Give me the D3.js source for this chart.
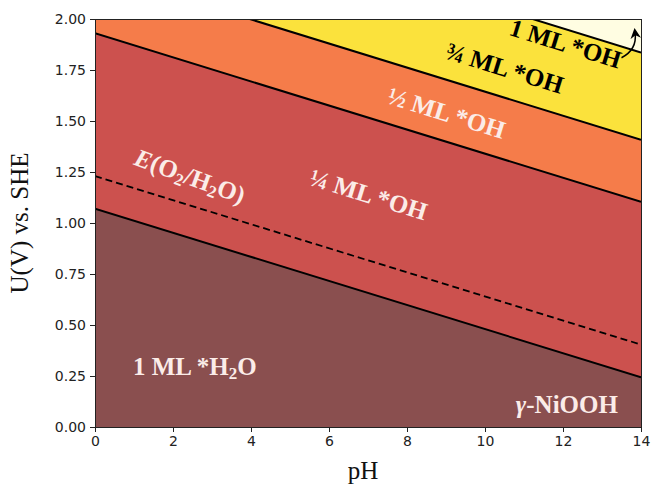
<!DOCTYPE html>
<html>
<head>
<meta charset="utf-8">
<title>pourbaix</title>
<script src="https://cdn.jsdelivr.net/npm/d3@7"></script>
<style>
  body { margin: 0; background: #fff; }
  svg { display: block; }
  .axis path, .axis line { stroke: #222; stroke-width: 1px; shape-rendering: crispEdges; }
  .axis text { font-family: "DejaVu Sans", sans-serif; font-size: 14px; fill: #222; }
  .label { font-family: "Liberation Serif", "DejaVu Serif", serif; font-weight: bold; font-size: 25px; }
  .title { font-family: "Liberation Serif", serif; font-size: 25px; fill: #111; }
</style>
</head>
<body>
<svg width="652" height="486"></svg>
<script>
// pH range of the plot
var phEnds = [0, 14];
// phase boundaries, potential at pH 0 and at pH 14 (V vs SHE)
var boundaryAt0 = [1.07, 1.93, 2.234, 2.662];
var boundaryAt14 = [0.244, 1.104, 1.408, 1.836];
// O2/H2O equilibrium line
var oerLine = [1.23, 0.404];
// region fills, bottom to top
var regionColors = ["#8a4f4f", "#cc514e", "#f57c4a", "#fbe23c", "#fffde2"];
var xTicks = [0, 2, 4, 6, 8, 10, 12, 14];
var yTicks = [0, 0.25, 0.5, 0.75, 1, 1.25, 1.5, 1.75, 2];

var svg = d3.select("svg"),
    margin = {top: 19, right: 11, bottom: 59, left: 95},
    width = +svg.attr("width") - margin.left - margin.right,
    height = +svg.attr("height") - margin.top - margin.bottom,
    g = svg.append("g").attr("transform", "translate(" + margin.left + "," + margin.top + ")");

var x = d3.scaleLinear().domain([0, 14]).range([0, width]);
var y = d3.scaleLinear().domain([0, 2]).range([height, 0]);

svg.append("defs").append("clipPath").attr("id", "plot")
  .append("rect").attr("width", width).attr("height", height);

svg.select("defs").append("marker")
  .attr("id", "head").attr("viewBox", "0 0 10 10").attr("refX", 5).attr("refY", 5)
  .attr("markerWidth", 7).attr("markerHeight", 7).attr("orient", "auto-start-reverse")
  .append("path").attr("d", "M0,0 L10,5 L0,10 L3,5 Z").attr("fill", "#000");

var plot = g.append("g").attr("clip-path", "url(#plot)");

// region bands: lower edge is the previous boundary (or 0), upper is the next (or above the top)
var lower = [[0, 0]].concat(boundaryAt0.map(function(d, i) { return [d, boundaryAt14[i]]; }));
var upper = boundaryAt0.map(function(d, i) { return [d, boundaryAt14[i]]; }).concat([[3, 3]]);

var area = d3.area()
  .x(function(d) { return x(d.ph); })
  .y0(function(d) { return y(d.lo); })
  .y1(function(d) { return y(d.hi); });

regionColors.forEach(function(c, i) {
  var pts = phEnds.map(function(p, j) { return {ph: p, lo: lower[i][j], hi: upper[i][j]}; });
  plot.append("path").datum(pts).attr("d", area).attr("fill", c);
});

var line = d3.line()
  .x(function(d) { return x(d.ph); })
  .y(function(d) { return y(d.u); });

boundaryAt0.forEach(function(d, i) {
  var pts = phEnds.map(function(p, j) { return {ph: p, u: [d, boundaryAt14[i]][j]}; });
  plot.append("path").datum(pts).attr("d", line)
    .attr("fill", "none").attr("stroke", "#000").attr("stroke-width", 2);
});

plot.append("path")
  .datum(phEnds.map(function(p, j) { return {ph: p, u: oerLine[j]}; }))
  .attr("d", line).attr("fill", "none").attr("stroke", "#000")
  .attr("stroke-width", 1.8).attr("stroke-dasharray", "7,4");

// arrow pointing to the top-right corner region
plot.append("path")
  .attr("d", "M" + x(13.5) + "," + y(1.81) + " Q" + x(13.9) + "," + y(1.85) + " " + x(13.85) + "," + y(1.93))
  .attr("fill", "none").attr("stroke", "#000").attr("stroke-width", 1.5)
  .attr("marker-end", "url(#head)");

// labels
var angle = Math.atan2(y(0) - y(0.059), x(1) - x(0)) * 180 / Math.PI;
function label(ph, u, rot, fill, parts) {
  var t = g.append("text").attr("class", "label")
    .attr("text-anchor", "middle")
    .attr("transform", "translate(" + x(ph) + "," + y(u) + ") rotate(" + rot + ")")
    .attr("fill", fill);
  parts.forEach(function(p) {
    var s = t.append("tspan").text(p.t);
    if (p.sub) s.attr("baseline-shift", "-25%").attr("font-size", "17px");
    if (p.it) s.attr("font-style", "italic");
  });
}
var white = "#fbece8";
label(12.0, 1.84, angle, "#000", [{t: "1 ML *OH"}]);
label(10.44, 1.72, angle, "#000", [{t: "\u00be ML *OH"}]);
label(8.95, 1.50, angle, white, [{t: "\u00bd ML *OH"}]);
label(6.95, 1.10, angle, white, [{t: "\u00bc ML *OH"}]);
label(2.36, 1.19, angle + 3, white, [{t: "E", it: true}, {t: "(O"}, {t: "2", sub: true}, {t: "/H"}, {t: "2", sub: true}, {t: "O)"}]);
label(2.56, 0.255, 0, white, [{t: "1 ML *H"}, {t: "2", sub: true}, {t: "O"}]);
label(12.1, 0.07, 0, white, [{t: "\u03b3", it: true}, {t: "-NiOOH"}]);

// axes
g.append("g").attr("class", "axis")
  .attr("transform", "translate(0," + height + ")")
  .call(d3.axisBottom(x).tickValues(xTicks).tickSize(5).tickPadding(4).tickFormat(d3.format("d")));
g.append("g").attr("class", "axis")
  .call(d3.axisLeft(y).tickValues(yTicks).tickSize(5).tickPadding(4).tickFormat(d3.format(".2f")));
g.selectAll(".axis .domain").remove();
g.append("rect").attr("width", width).attr("height", height)
  .attr("fill", "none").attr("stroke", "#222").attr("stroke-width", 1).attr("shape-rendering", "crispEdges");

g.append("text").attr("class", "title").attr("text-anchor", "middle")
  .attr("x", width / 2 - 5).attr("y", height + 52).text("pH");
g.append("text").attr("class", "title").attr("text-anchor", "middle")
  .attr("transform", "translate(-67," + (height / 2) + ") rotate(-90)").text("U(V) vs. SHE");
</script>
</body>
</html>
